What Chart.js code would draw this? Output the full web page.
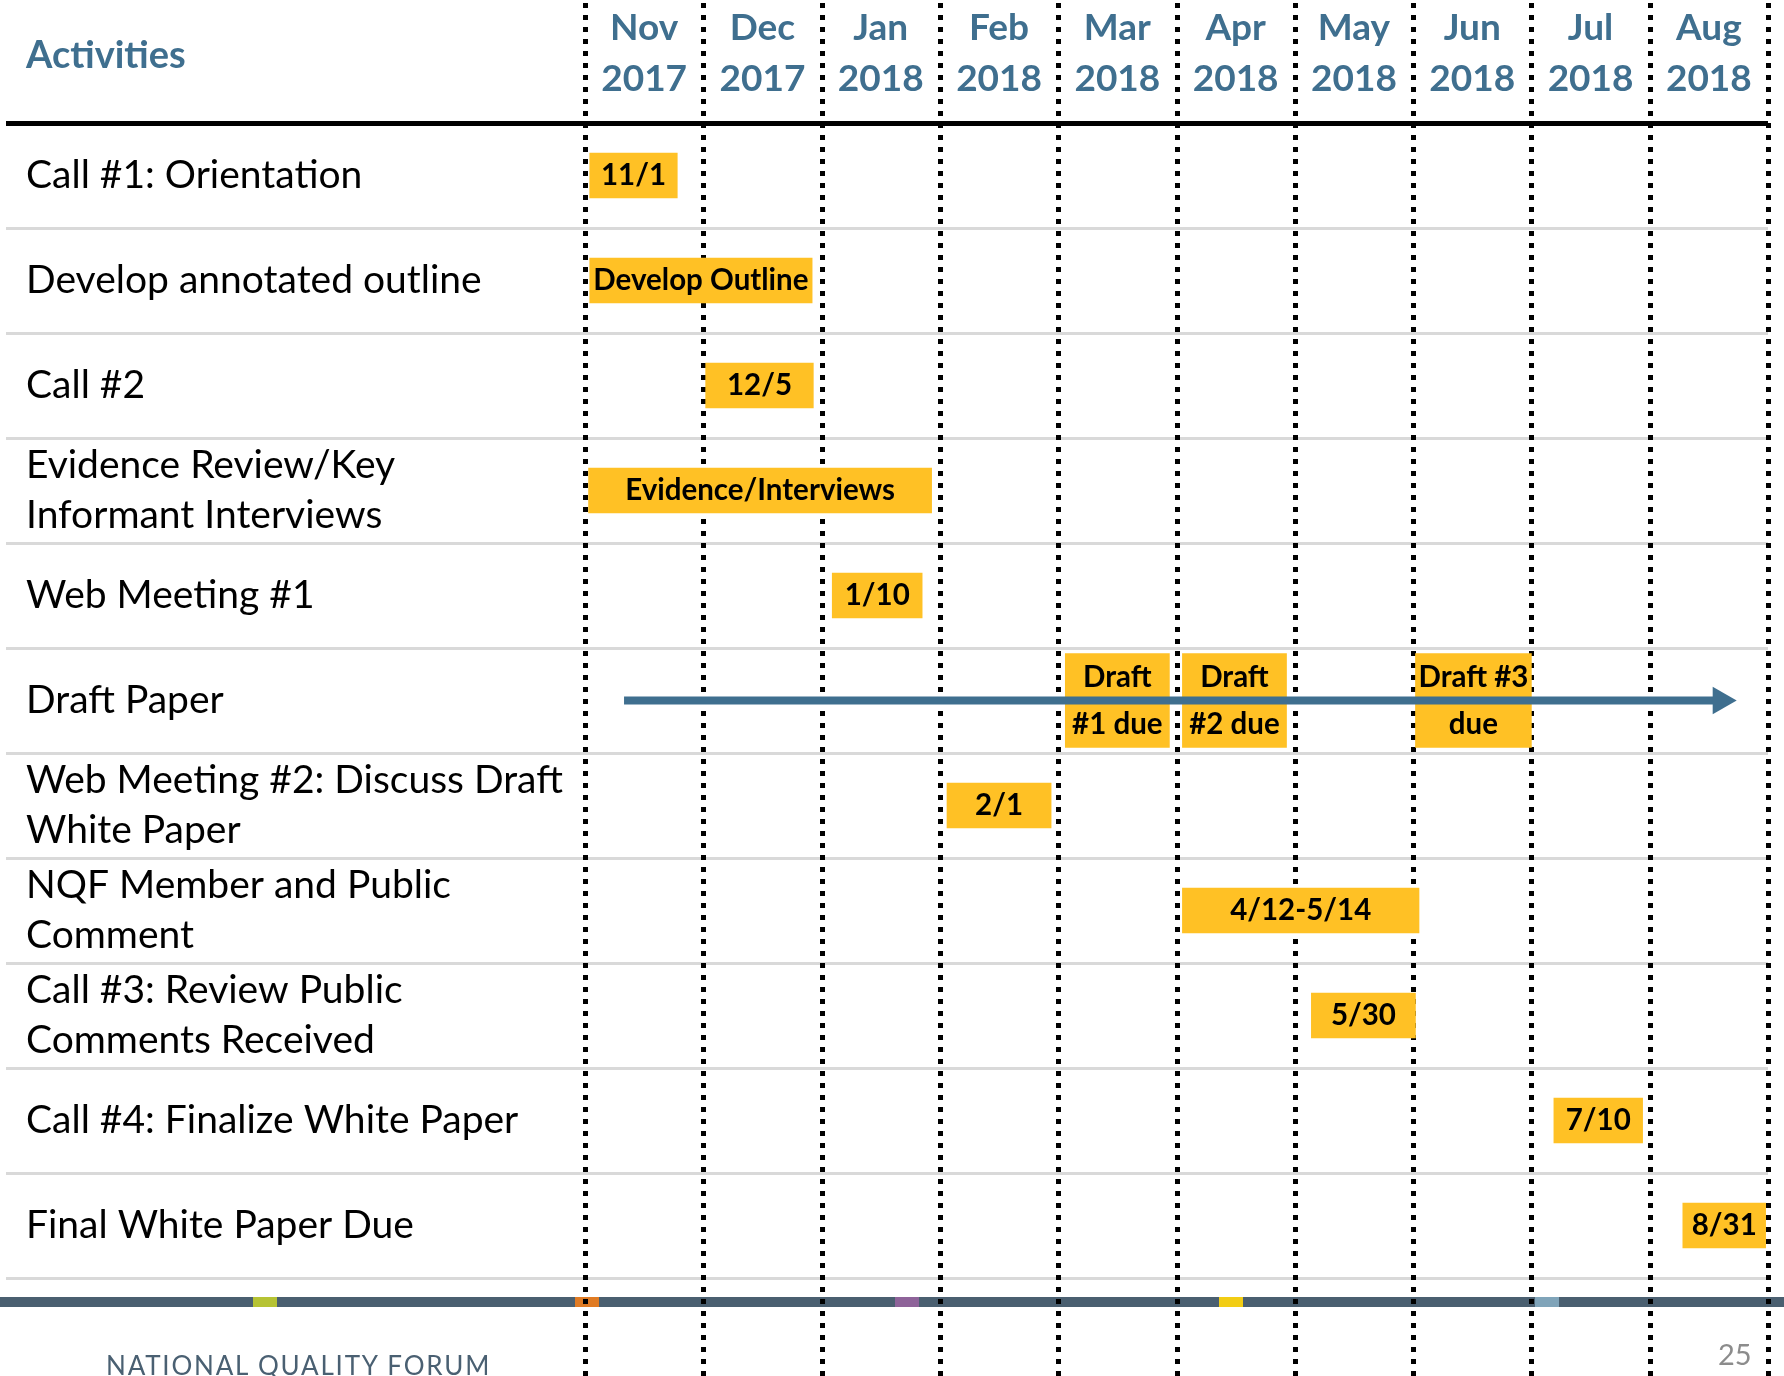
<!DOCTYPE html>
<html>
<head>
<meta charset="utf-8">
<script src="https://cdn.jsdelivr.net/npm/chart.js@4.4.1/dist/chart.umd.min.js"></script>
<style>
  html, body { margin: 0; padding: 0; background: #fff; }
  #wrap { position: relative; width: 1784px; height: 1376px; overflow: hidden; }
  #timeline { position: absolute; left: 0; top: 0; }
  #heading { position: absolute; left: 26px; top: 30px; font: bold 38px Lato; line-height: 46px; color: #3f6f8f; }
  #forum { position: absolute; left: 106px; top: 1349px; font: 26px Lato; letter-spacing: 1.8px; color: #4a6072; }
  #page { position: absolute; left: 1718px; top: 1336px; font: 29px Lato; color: #8c8c8c; }
</style>
</head>
<body>
<div id="wrap">
  <canvas id="timeline" width="1784" height="1376"></canvas>
  <div id="heading">Activities</div>
  <div id="forum">NATIONAL QUALITY FORUM</div>
  <div id="page">25</div>
</div>
<script>
// Timeline data (x unit = months from 1 Nov 2017)
const activities = [
  'Call #1: Orientation',
  'Develop annotated outline',
  'Call #2',
  ['Evidence Review/Key', 'Informant Interviews'],
  'Web Meeting #1',
  'Draft Paper',
  ['Web Meeting #2: Discuss Draft', 'White Paper'],
  ['NQF Member and Public', 'Comment'],
  ['Call #3: Review Public', 'Comments Received'],
  'Call #4: Finalize White Paper',
  'Final White Paper Due'
];
const months = [
  ['Nov', '2017'], ['Dec', '2017'], ['Jan', '2018'], ['Feb', '2018'], ['Mar', '2018'],
  ['Apr', '2018'], ['May', '2018'], ['Jun', '2018'], ['Jul', '2018'], ['Aug', '2018']
];
const taskStart = [0.04, 0.04, 1.02, 0.03, 2.09, null, 3.06, 5.05, 6.14, 8.19, 9.28];
const taskEnd   = [0.78, 1.92, 1.93, 2.93, 2.85, null, 3.94, 7.05, 7.02, 8.94, 9.98];
const taskText  = ['11/1', 'Develop Outline', '12/5', 'Evidence/Interviews', '1/10', '',
                   '2/1', '4/12-5/14', '5/30', '7/10', '8/31'];
const draftStart = [4.06, 5.05, 7.02];
const draftEnd   = [4.94, 5.93, 8.00];
const draftText  = [['Draft', '#1 due'], ['Draft', '#2 due'], ['Draft #3', 'due']];
const arrowSpan  = [0.33, 9.6];

const draftRow = activities[5];
const BLUE = '#3f6f8f';
const GOLD = '#ffc125';

Chart.defaults.font.family = 'Lato';

// footer band + dotted month dividers, under the boxes
const backdrop = {
  id: 'backdrop',
  beforeDatasetsDraw(chart) {
    const { ctx, width, height } = chart;
    const xs = chart.scales.x;
    ctx.save();
    ctx.fillStyle = '#4a5f70';
    ctx.fillRect(0, 1297, width, 10);
    [['#b6c334', 253], ['#e07b24', 575], ['#8e6399', 895], ['#f2cd14', 1219], ['#80a4b9', 1535]]
      .forEach(([c, left]) => { ctx.fillStyle = c; ctx.fillRect(left, 1297, 24, 10); });
    ctx.strokeStyle = '#000';
    ctx.lineWidth = 5;
    ctx.setLineDash([5, 7]);
    for (let m = 0; m <= months.length; m++) {
      const px = Math.round(xs.getPixelForValue(m)) + 0.5;
      ctx.beginPath();
      ctx.moveTo(px, 3);
      ctx.lineTo(px, height);
      ctx.stroke();
    }
    ctx.restore();
  }
};

// text inside the yellow boxes
const boxText = {
  id: 'boxText',
  afterDatasetsDraw(chart) {
    const ctx = chart.ctx;
    ctx.save();
    ctx.font = 'bold 29.5px Lato';
    ctx.fillStyle = '#000';
    ctx.textAlign = 'center';
    ctx.textBaseline = 'middle';
    chart.data.datasets.forEach((ds, di) => {
      if (!ds.texts) return;
      chart.getDatasetMeta(di).data.forEach((bar, i) => {
        const t = ds.texts[i];
        if (!t) return;
        const { x, y } = bar.getCenterPoint();
        const lines = [].concat(t);
        lines.forEach((line, k) => ctx.fillText(line, x, y + (k - (lines.length - 1) / 2) * 47));
      });
    });
    ctx.restore();
  }
};

new Chart(document.getElementById('timeline'), {
  type: 'bar',
  data: {
    labels: activities,
    datasets: [
      {
        label: 'Activities',
        data: taskStart.map((s, i) => s === null ? null : [s, taskEnd[i]]),
        texts: taskText,
        backgroundColor: GOLD,
        barThickness: 45,
        grouped: false,
        indexAxis: 'y',
        order: 2
      },
      {
        label: 'Drafts',
        data: draftStart.map((s, i) => ({ x: [s, draftEnd[i]], y: draftRow })),
        texts: draftText,
        backgroundColor: GOLD,
        barThickness: 94,
        grouped: false,
        indexAxis: 'y',
        order: 1
      },
      {
        type: 'line',
        label: 'Draft timeline',
        data: arrowSpan.map(v => ({ x: v, y: draftRow })),
        borderColor: BLUE,
        backgroundColor: BLUE,
        borderWidth: 8,
        borderCapStyle: 'butt',
        pointRadius: [0, 16],
        pointStyle: 'triangle',
        pointRotation: 90,
        pointBorderWidth: 0,
        indexAxis: 'y',
        order: 0
      }
    ]
  },
  options: {
    indexAxis: 'y',
    responsive: false,
    animation: false,
    events: [],
    layout: { padding: { left: 26, right: 9, top: 0, bottom: 98 } },
    plugins: { legend: { display: false }, tooltip: { enabled: false } },
    scales: {
      x: { type: 'linear', min: 0, max: months.length, display: false },
      months: {
        type: 'category',
        axis: 'x',
        position: 'top',
        labels: months,
        offset: true,
        grid: { display: false, drawTicks: false },
        border: { display: false },
        ticks: {
          color: BLUE,
          padding: 18,
          maxRotation: 0,
          autoSkip: false,
          font: { size: 37, weight: 'bold', lineHeight: 51 / 37 }
        },
        afterFit: s => { s.height = 123; }
      },
      y: {
        type: 'category',
        offset: true,
        border: { display: false },
        grid: {
          offset: true,
          tickLength: 579,
          color: c => c.index === 0 ? '#000' : '#d9d9d9',
          lineWidth: c => c.index === 0 ? 5 : 3
        },
        ticks: {
          color: '#000',
          crossAlign: 'far',
          autoSkip: false,
          font: { size: 39, lineHeight: 50 / 39 }
        },
        afterFit: s => { s.width = 559; }
      }
    }
  },
  plugins: [backdrop, boxText]
});
</script>
</body>
</html>
